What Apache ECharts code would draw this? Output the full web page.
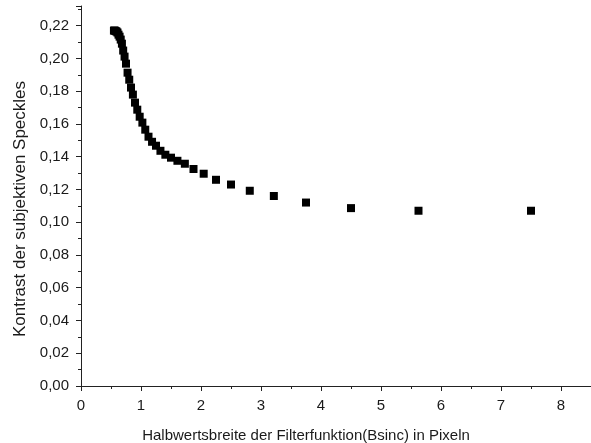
<!DOCTYPE html>
<html>
<head>
<meta charset="utf-8">
<script src="https://cdn.jsdelivr.net/npm/echarts@6/dist/echarts.min.js"></script>
<style>
  html, body { margin: 0; padding: 0; background: #fff; }
  #chart { width: 591px; height: 443px; }
</style>
</head>
<body>
<div id="chart"></div>
<script>
// Halbwertsbreite (Pixel)
const halbwertsbreite = [
  0.549, 0.563, 0.577, 0.592, 0.608, 0.625, 0.643, 0.662, 0.682, 0.703,
  0.726, 0.75, 0.776, 0.804, 0.833, 0.865, 0.9, 0.938, 0.978, 1.023,
  1.071, 1.125, 1.184, 1.25, 1.324, 1.406, 1.5, 1.607, 1.731, 1.875,
  2.045, 2.25, 2.5, 2.813, 3.214, 3.75, 4.5, 5.625, 7.5
];
// Kontrast der subjektiven Speckles
const kontrast = [
  0.217, 0.217, 0.2167, 0.2164, 0.2158, 0.2145, 0.2133, 0.2115, 0.209, 0.2048,
  0.2011, 0.1968, 0.1913, 0.187, 0.1822, 0.1779, 0.173, 0.1687, 0.1644, 0.1608,
  0.1565, 0.1522, 0.1491, 0.1467, 0.1436, 0.1412, 0.1394, 0.1375, 0.1357, 0.1325,
  0.1296, 0.1259, 0.123, 0.1192, 0.116, 0.112, 0.1086, 0.107, 0.107
];

const font = 'Liberation Sans, Arial, sans-serif';

const points = halbwertsbreite.map((x, i) => [x, kontrast[i]]);

const option = {
  backgroundColor: '#fff',
  animation: false,
  grid: { left: 81, right: 0, top: 6, bottom: 57, outerBoundsMode: 'none', containLabel: false },
  // y-Achsentitel als gedrehter Text, damit er wie im Original etwas tiefer sitzt
  graphic: [
    {
      type: 'text',
      x: 20,
      y: 209,
      rotation: Math.PI / 2,
      style: {
        text: 'Kontrast der subjektiven Speckles',
        x: 0,
        y: 0,
        align: 'center',
        verticalAlign: 'middle',
        fontFamily: font,
        fontSize: 17,
        fill: '#1a1a1a'
      }
    }
  ],
  xAxis: {
    type: 'value',
    min: 0,
    max: 8.5,
    interval: 1,
    name: 'Halbwertsbreite der Filterfunktion(Bsinc) in Pixeln',
    nameLocation: 'middle',
    nameGap: 42,
    nameTextStyle: { fontFamily: font, fontSize: 15, color: '#1a1a1a', padding: [0, 60, 0, 0] },
    axisLine: { show: true, lineStyle: { color: '#222', width: 1 } },
    axisTick: { show: true, inside: false, length: 5, lineStyle: { color: '#222' } },
    minorTick: { show: true, splitNumber: 2, length: 3, lineStyle: { color: '#222' } },
    axisLabel: { fontFamily: font, fontSize: 15, color: '#1a1a1a', margin: 12, showMaxLabel: false },
    splitLine: { show: false }
  },
  yAxis: {
    type: 'value',
    min: 0,
    max: 0.232,
    interval: 0.02,
    axisLine: { show: true, lineStyle: { color: '#222', width: 1 } },
    axisTick: { show: true, inside: false, length: 5, lineStyle: { color: '#222' } },
    minorTick: { show: true, splitNumber: 2, length: 3, lineStyle: { color: '#222' } },
    axisLabel: {
      fontFamily: font, fontSize: 15, color: '#1a1a1a', margin: 12, showMaxLabel: false,
      formatter: v => v.toFixed(2).replace('.', ',')
    },
    splitLine: { show: false }
  },
  series: [
    {
      type: 'scatter',
      data: points,
      symbol: 'rect',
      symbolSize: 8,
      itemStyle: { color: '#000', opacity: 1 }
    }
  ]
};

const myChart = echarts.init(document.getElementById('chart'));
myChart.setOption(option);
</script>
</body>
</html>
